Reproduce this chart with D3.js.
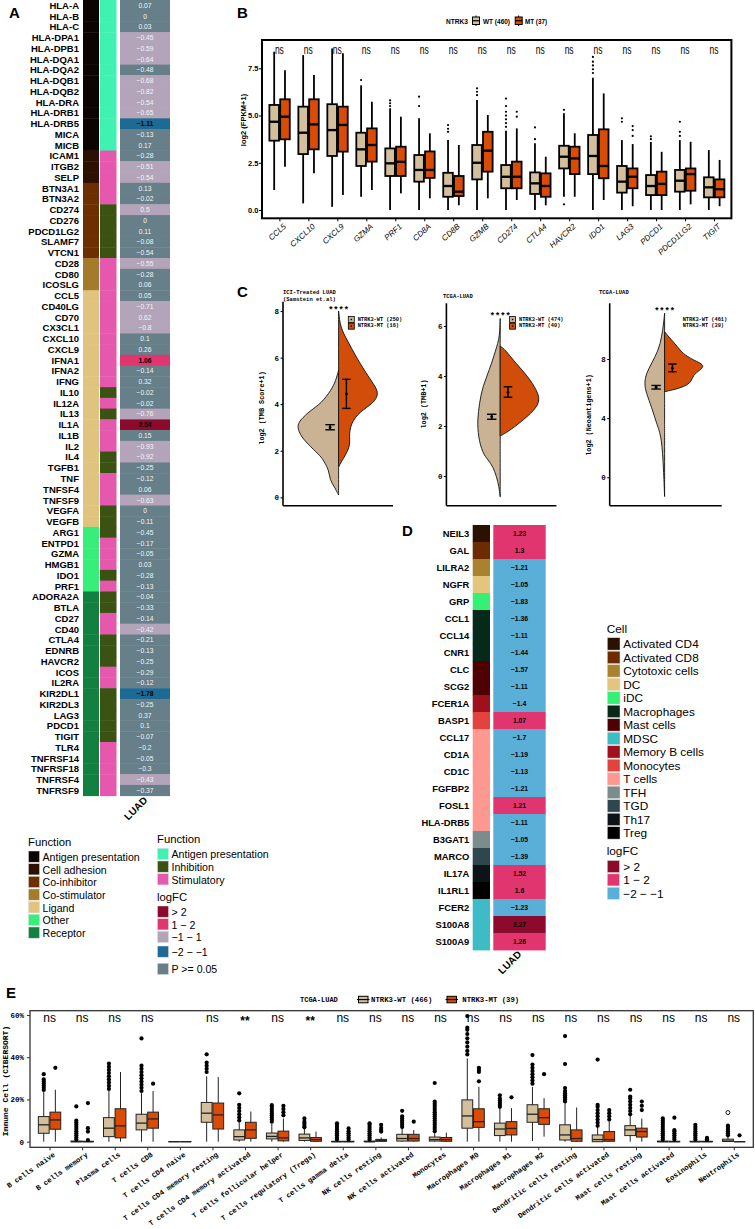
<!DOCTYPE html>
<html>
<head>
<meta charset="utf-8">
<script src="https://cdn.jsdelivr.net/npm/d3@7"></script>
<style>body{margin:0;background:#fff}svg{display:block}text{fill:#000}</style>
</head>
<body>
<script>
// ---------- data : panel A ----------
var aGenes = ["HLA-A","HLA-B","HLA-C","HLA-DPA1","HLA-DPB1","HLA-DQA1","HLA-DQA2","HLA-DQB1","HLA-DQB2","HLA-DRA","HLA-DRB1","HLA-DRB5","MICA","MICB","ICAM1","ITGB2","SELP","BTN3A1","BTN3A2","CD274","CD276","PDCD1LG2","SLAMF7","VTCN1","CD28","CD80","ICOSLG","CCL5","CD40LG","CD70","CX3CL1","CXCL10","CXCL9","IFNA1","IFNA2","IFNG","IL10","IL12A","IL13","IL1A","IL1B","IL2","IL4","TGFB1","TNF","TNFSF4","TNFSF9","VEGFA","VEGFB","ARG1","ENTPD1","GZMA","HMGB1","IDO1","PRF1","ADORA2A","BTLA","CD27","CD40","CTLA4","EDNRB","HAVCR2","ICOS","IL2RA","KIR2DL1","KIR2DL3","LAG3","PDCD1","TIGIT","TLR4","TNFRSF14","TNFRSF18","TNFRSF4","TNFRSF9"];
// A=Antigen presentation C=Cell adhesion I=Co-inhibitor S=Co-stimulator L=Ligand O=Other R=Receptor
var aCategory = "AAAAAAAAAAAAAACCCIIIIIIISSSLLLLLLLLLLLLLLLLLLLLLLOOOOOORRRRRRRRRRRRRRRRRRR".split("");
// A=Antigen presentation I=Inhibition S=Stimulatory
var aFunction = "AAAAAAAAAAAAAASSSSSIIIIISSSSSSSSSSSSISISSSIISSSIIISSSISIISSIIISSIIIIISSSSS".split("");
var aLogFC = [0.07,0,0.03,-0.45,-0.59,-0.64,-0.48,-0.68,-0.82,-0.54,-0.65,-1.11,-0.13,0.17,-0.28,-0.51,-0.54,0.13,-0.02,0.5,0,0.11,-0.08,-0.54,-0.55,-0.28,0.06,0.05,-0.71,0.62,-0.8,0.1,0.26,1.06,-0.14,0.32,-0.02,-0.02,-0.76,2.54,0.15,-0.93,-0.92,-0.25,-0.12,0.06,-0.63,0,-0.11,-0.45,-0.17,-0.05,0.03,-0.28,-0.13,-0.04,-0.33,-0.14,-0.42,-0.21,-0.13,-0.25,-0.29,-0.12,-1.78,-0.25,0.37,0.1,-0.07,-0.2,-0.05,-0.3,-0.43,-0.37];
// n = P>=0.05, m = -1~1, p = 1~2, r = >2, b = -2~-1
var aLevel = "nnnmmmnmmmmbnnnmmnnmnnnnmnnnmmmnnpnnnnmrnmmnnnmnnnnnnnnnnnmnnnnnbnnnnnnnmn".split("");

var catNames = ["Antigen presentation","Cell adhesion","Co-inhibitor","Co-stimulator","Ligand","Other","Receptor"];
var catCodes = ["A","C","I","S","L","O","R"];
var catColors = ["#0c0400","#2c1000","#6d2e00","#a47b2b","#e0c47e","#36ee7a","#128040"];
var funcNames = ["Antigen presentation","Inhibition","Stimulatory"];
var funcCodes = ["A","I","S"];
var funcColors = ["#3ff2b2","#3a5212","#e558ad"];
var levelNames = ["> 2","1 \u2212 2","\u22121 \u2212 1","\u22122 \u2212 \u22121","P >= 0.05"];
var levelCodes = ["r","p","m","b","n"];
var levelColors = ["#8c0a2b","#e1356f","#b4a4b9","#1d6a95","#667f88"];

// ---------- data : panel B ----------
var bGenes = ["CCL5","CXCL10","CXCL9","GZMA","PRF1","CD8A","CD8B","GZMB","CD274","CTLA4","HAVCR2","IDO1","LAG3","PDCD1","PDCD1LG2","TIGIT"];
// [lower whisker, Q1, median, Q3, upper whisker]
var bWT = [[1.06,3.67,4.67,5.56,8.38],[0.35,2.96,4.09,5.47,8.2],[0.17,2.86,4.23,5.6,8.55],[0.7,2.33,3.21,4.09,6.6],[0,1.8,2.47,3.26,5.38],[0,1.5,2.12,2.91,4.85],[0,0.7,1.27,1.97,3.7],[0,1.62,2.5,3.44,5.82],[0,1.15,1.76,2.38,4.2],[0,0.85,1.41,1.99,3.53],[0.7,2.2,2.82,3.4,5.12],[0,1.9,2.86,3.97,7.0],[0,0.92,1.5,2.33,3.7],[0,0.79,1.27,1.85,3.6],[0,0.97,1.55,2.12,3.7],[0,0.67,1.2,1.73,3.17]];
var bMT = [[2.29,3.74,4.94,5.86,7.4],[1.94,3.21,4.53,5.86,7.14],[0.79,3.09,4.5,5.47,8.29],[1.06,2.56,3.44,4.32,5.73],[0.88,1.8,2.55,3.35,4.94],[0.62,1.7,2.12,3.1,4.06],[0.25,0.74,0.97,1.8,3.44],[0.62,2.03,3.14,4.14,5.03],[0.53,1.15,1.76,2.56,4.32],[0.25,0.7,1.27,1.94,2.82],[0.7,1.9,2.73,3.35,4.06],[0.53,1.68,2.33,4.27,6.17],[0.2,1.15,1.76,2.2,3.49],[0,0.79,1.38,2.03,3.08],[0.3,1.02,1.9,2.2,3.61],[0.2,0.67,1.1,1.62,2.65]];
var bWTout = [[],[],[],[6.88],[5.5,5.65,5.8],[5.5,6.0],[4.14,4.3,4.5],[6.08,6.26,6.44],[4.4,4.6,4.8,5.0,5.2,5.5,5.9],[3.75,4.37],[0.3,5.3],[7.25,7.45,7.65,7.85,8.1],[4.67,4.85],[3.75,3.9],[3.92,4.14,4.67],[]];
var bMTout = [[],[],[],[],[],[],[],[],[4.94,5.2],[],[],[],[3.92,4.23,4.44],[],[],[]];
var bYTicks = [0,2.5,5,7.5];

// ---------- data : panel C (density) ----------
var cTitles = [["ICI-Treated LUAD","(Samstein et.al)"],["TCGA-LUAD"],["TCGA-LUAD"]];
var cYLabels = ["log2 (TMB Score+1)","log2 (TMB+1)","log2 (Neoantigens+1)"];
var cLegends = [["NTRK3-WT (250)","NTRK3-MT (16)"],["NTRK3-WT (474)","NTRK3-MT (40)"],["NTRK3-WT (461)","NTRK3-MT (39)"]];
var cYTicks = [[0,2,4,6,8],[0,2,4,6],[0,4,8]];
var cWTdens = [
  [[0.1,0],[0.45,0.1],[0.74,0.21],[1.17,0.23],[1.6,0.37],[1.74,0.42],[2.17,0.67],[2.6,0.9],[3.03,1.0],[3.31,0.93],[3.74,0.67],[4.03,0.42],[4.62,0.17],[5.0,0.07],[5.46,0]],
  [[-0.83,0],[-0.43,0.03],[-0.03,0.09],[0.37,0.18],[0.64,0.3],[0.91,0.44],[1.57,0.55],[2.24,0.57],[2.91,0.52],[3.57,0.44],[4.24,0.27],[5.04,0.11],[5.57,0.01],[6.3,0]],
  [[-1.3,0],[0.49,0.025],[2.74,0.07],[3.65,0.2],[4.77,0.32],[5.68,0.45],[6.36,0.5],[7.03,0.45],[7.7,0.32],[8.6,0.15],[9.5,0.07],[10.4,0.025],[11.1,0]]
];
var cMTdens = [
  [[1.3,0],[1.46,0.04],[2.17,0.29],[2.6,0.25],[3.17,0.29],[3.67,0.5],[4.03,0.83],[4.46,0.98],[4.89,0.83],[5.31,0.67],[6.03,0.42],[6.74,0.21],[7.3,0.04],[8.0,0]],
  [[1.6,0],[1.8,0.22],[2.11,0.48],[2.64,0.87],[3.04,1.0],[3.44,0.91],[3.97,0.7],[4.51,0.39],[5.04,0.13],[5.2,0]],
  [[5.79,0],[5.9,0.19],[6.13,0.49],[6.46,0.66],[6.92,0.7],[7.25,0.87],[7.59,1.0],[7.93,0.7],[8.38,0.44],[8.83,0.32],[9.5,0.1],[9.85,0]]
];
// [mean, low, high]
var cWTmean = [[3.0,2.9,3.12],[2.37,2.27,2.47],[6.09,5.97,6.21]];
var cMTmean = [[4.44,3.82,5.07],[3.35,3.15,3.57],[7.37,7.14,7.66]];

// ---------- data : panel D ----------
var dGenes = ["NEIL3","GAL","LILRA2","NGFR","GRP","CCL1","CCL14","CNR1","CLC","SCG2","FCER1A","BASP1","CCL17","CD1A","CD1C","FGFBP2","FOSL1","HLA-DRB5","B3GAT1","MARCO","IL17A","IL1RL1","FCER2","S100A8","S100A9"];
var dCell = ["Activated CD4","Activated CD8","Cytotoxic cells","DC","iDC","Macrophages","Macrophages","Macrophages","Mast cells","Mast cells","Memory B cells","Monocytes","T cells","T cells","T cells","T cells","T cells","T cells","TFH","TGD","Th17","Treg","MDSC","MDSC","MDSC"];
var dLogFC = [1.23,1.3,-1.21,-1.05,-1.83,-1.36,-1.11,-1.44,-1.57,-1.11,-1.4,1.07,-1.7,-1.19,-1.13,-1.21,1.21,-1.11,-1.05,-1.39,1.52,1.6,-1.23,2.27,1.26];
var cellNames = ["Activated CD4","Activated CD8","Cytotoxic cells","DC","iDC","Macrophages","Mast cells","MDSC","Memory B cells","Monocytes","T cells","TFH","TGD","Th17","Treg"];
var cellColors = ["#2b1200","#6e2b00","#a8822c","#e3c57f","#35f072","#06291a","#4f0000","#3dbcc5","#a0101c","#e3433d","#fe9891","#7b8c8c","#2e464c","#0d1417","#000000"];
var dLevelNames = ["> 2","1 \u2212 2","\u22122 \u2212 \u22121"];
var dLevelColors = ["#8c0a2b","#e1356f","#5aafd8"];

// ---------- data : panel E ----------
var eCells = ["B cells naive","B cells memory","Plasma cells","T cells CD8","T cells CD4 naive","T cells CD4 memory resting","T cells CD4 memory activated","T cells follicular helper","T cells regulatory (Tregs)","T cells gamma delta","NK cells resting","NK cells activated","Monocytes","Macrophages M0","Macrophages M1","Macrophages M2","Dendritic cells resting","Dendritic cells activated","Mast cells resting","Mast cells activated","Eosinophils","Neutrophils"];
var eSig = ["ns","ns","ns","ns","","ns","**","ns","**","ns","ns","ns","ns","ns","ns","ns","ns","ns","ns","ns","ns","ns"];
var eWT = [[0,4.0,8.0,11.9,23.5],[0,0,0,0.3,0.7],[0,2.4,6.4,11.4,24],[0,5.6,8.8,13,23],[0,0,0,0,0],[0,9.2,13.5,18.6,31],[0,0.8,2.4,5.6,9],[0,1.3,2.5,4.1,8.5],[0,0.6,1.8,3.6,6],[0,0,0,0.2,0.5],[0,0,0,0.3,0.7],[0,0.3,1.5,3.5,6.5],[0,0.3,1,2.2,4.5],[0,6.4,12.2,19.8,39.4],[0,2.9,6,8.8,15.9],[0.3,9.2,13,17.5,26],[0,0.8,3.2,8,18],[0,0,1,3.2,6.5],[0,2.9,5.6,7.6,12.7],[0,0,0,0.3,0.7],[0,0,0,0.2,0.4],[0,0.1,0.3,1.2,2.5]];
var eMT = [[0,5.9,10.3,14,24.6],[0,0,0,0.2,0.5],[0,1.8,7.5,15.6,33],[0,6.4,10.8,14,24],[0,0,0,0,0],[0,6,12.7,18.3,30.6],[0,1.6,5.6,9.2,14.3],[0,0.4,1.8,5,11],[0,0.2,1,2,4.8],[0,0,0,0.2,0.5],[0,0.2,0.5,1.1,2],[0,0.3,1.5,3.5,5.5],[0,0.2,1,2,4.3],[0,6.8,9.5,15.6,26],[0,3.2,6.3,9.5,15.9],[2.4,8.2,11.4,15.6,20.6],[0,0.2,1.5,5.6,16.2],[0,0.2,1,4.8,9.5],[0,2.2,4.8,6.4,11],[0,0,0,0.2,0.5],[0,0,0,0.2,0.4],[0,0,0,0,0]];
var eWTout = [[24.5,25.5,26.5,27.5,28.5,29.5,32],[1,2,3,4,5,6,7,8,9,10,16.7],[25,26.5,28,29.5,31,32.5,34,35.5,37],[24,25.5,27,28.5,30,31.5,33,34.5,36,48.9],[],[33,34.5,36,37.5,41.4],[10,11.5,13,14.5,16,17.5,22.9],[9.5,10.5,11.5,12.5,13.5,14.5,15.5,16.5,17.3],[6.8,7.5,8.5,9.5,11],[1,2,3,4,5,6,7,8,8.7],[1,2,3,4,5,6,7,8,8.7],[7,8,9,10,11,12,14.6],[5,6,7,8,9,10,11,12,13,14,15,16,17,18,19,27.8],[41.3,43,45,47,49,51,53,54,59.5],[16.5,17.5,18.5,19.5,20.5,22],[27.5,29,30.5,32,33.5,35,36.5,41],[19,20,21,22,23,24,25.4,36.8,50],[7.5,9,10.5,12,13.5,15,16.5,17.5,38.9],[13,14.5,16,17.5,19,20.5,21.4,24.6],[1,2,3,4,5,6,7,8,9,10,11],[1,2,3,4,5,6,7,8],[3,4,5,6,7,7.6]];
var eMTout = [[35],[0.8,4.8,6.4,18.3],[],[27.5],[],[],[],[12.5,14,15.5,17],[],[1,2,3,4,5,6.3],[4.8,5.5,6.5,8],[9.5],[],[28.6,33,34,35],[21],[32],[],[10.5,12,13.5,15],[15,17,19],[1,2,3,4,5,5.5,11.4],[0.8,1.2,1.8],[3]];
var eOpenPts = [{cell:"Neutrophils", value:13.8}];
var eYTicks = [0,20,40,60];

// ---------- drawing ----------
var sans = "'Liberation Sans', Arial, Helvetica, sans-serif";
var mono = "'Liberation Mono', 'Courier New', monospace";
var tan = "#d3bf9c", orange = "#da4b06";
var cTan = "#c9b394", cOrange = "#d24c0a";

var svg = d3.select("body").append("svg").attr("width", 755).attr("height", 1229);
svg.append("rect").attr("width", 755).attr("height", 1229).attr("fill", "#fff");

function fmt(v) { return (v < 0 ? "\u2212" : "") + String(Math.abs(v)); }

function panelLetter(t, x, y) {
	svg.append("text").attr("x", x).attr("y", y).text(t).attr("fill", "#000")
		.style("font", "bold 15px " + sans);
}

// box + whiskers
function drawBox(g, cx, w, s, fill, sw, yS, col) {
	var lo = s[0], q1 = s[1], md = s[2], q3 = s[3], hi = s[4];
	g.append("line").attr("x1", cx).attr("x2", cx).attr("y1", yS(hi)).attr("y2", yS(lo))
		.attr("stroke", col).attr("stroke-width", sw);
	g.append("rect").attr("x", cx - w / 2).attr("y", yS(q3)).attr("width", w)
		.attr("height", Math.max(0.01, yS(q1) - yS(q3)))
		.attr("fill", fill).attr("stroke", col).attr("stroke-width", sw);
	g.append("line").attr("x1", cx - w / 2).attr("x2", cx + w / 2).attr("y1", yS(md)).attr("y2", yS(md))
		.attr("stroke", col).attr("stroke-width", sw * 1.3);
}

// ===== Panel A =====
panelLetter("A", 9, 18);
var gA = svg.append("g");
var aY = d3.scaleBand().domain(aGenes).range([0, 795.7]);
var catColor = d3.scaleOrdinal().domain(catCodes).range(catColors);
var funcColor = d3.scaleOrdinal().domain(funcCodes).range(funcColors);
var levelColor = d3.scaleOrdinal().domain(levelCodes).range(levelColors);

gA.selectAll("text.gene").data(aGenes).join("text")
	.attr("x", 79).attr("y", function (d) { return aY(d) + aY.bandwidth() / 2; })
	.attr("text-anchor", "end").attr("dominant-baseline", "central").attr("fill", "#000")
	.style("font", "bold 9.5px " + sans).text(function (d) { return d; });
gA.selectAll("rect.cat").data(aGenes).join("rect")
	.attr("x", 83).attr("width", 16).attr("y", function (d) { return aY(d); })
	.attr("height", aY.bandwidth() + 0.4)
	.attr("fill", function (d, i) { return catColor(aCategory[i]); });
gA.selectAll("rect.fun").data(aGenes).join("rect")
	.attr("x", 100).attr("width", 16.5).attr("y", function (d) { return aY(d); })
	.attr("height", aY.bandwidth() + 0.4)
	.attr("fill", function (d, i) { return funcColor(aFunction[i]); });
gA.selectAll("rect.fc").data(aGenes).join("rect")
	.attr("x", 120).attr("width", 50).attr("y", function (d) { return aY(d); })
	.attr("height", aY.bandwidth() + 0.4)
	.attr("fill", function (d, i) { return levelColor(aLevel[i]); });
gA.selectAll("text.fc").data(aGenes).join("text")
	.attr("x", 145).attr("y", function (d) { return aY(d) + aY.bandwidth() / 2; })
	.attr("text-anchor", "middle").attr("dominant-baseline", "central")
	.style("fill", function (d, i) { return "nm".indexOf(aLevel[i]) >= 0 ? "#f4f4f4" : "#000"; })
	.style("font", function (d, i) { return ("nm".indexOf(aLevel[i]) >= 0 ? "" : "bold ") + "6.7px " + sans; })
	.text(function (d, i) { return fmt(aLogFC[i]); });
gA.append("text").attr("transform", "translate(148,801) rotate(-45)")
	.attr("text-anchor", "end").style("font", "bold 10px " + sans).text("LUAD");

// legends of A
function legendBlock(g, x, yTitle, title, names, colors, tops, fs) {
	g.append("text").attr("x", x).attr("y", yTitle).text(title).style("font", "11.3px " + sans);
	names.forEach(function (n, i) {
		g.append("rect").attr("x", x + 0.5).attr("y", tops[i]).attr("width", 11).attr("height", 11.2)
			.attr("fill", colors[i]).attr("stroke", "#ddd").attr("stroke-width", 0.5);
		g.append("text").attr("x", x + 14.5).attr("y", tops[i] + 5.8).attr("dominant-baseline", "central")
			.style("font", fs + "px " + sans).text(n);
	});
}
legendBlock(gA, 28, 846, "Function", catNames, catColors, [851, 863.7, 876.3, 889, 901.7, 914.3, 927], 10.6);
legendBlock(gA, 157, 843, "Function", funcNames, funcColors, [848.3, 861, 873.7], 10.6);
legendBlock(gA, 157, 901, "logFC", levelNames, levelColors, [906, 918.7, 931.3, 946, 963.3], 10.6);

// ===== Panel B =====
panelLetter("B", 237, 18);
var gB = svg.append("g");
var bLeft = 262, bRight = 731.4, bTop = 40, bBottom = 218.3;
var bX = d3.scalePoint().domain(bGenes).range([bLeft, bRight]).padding(0.6);
var bY = d3.scaleLinear().domain([0, 7.5]).range([210, 68.3]);

gB.append("g").attr("transform", "translate(" + bLeft + ",0)")
	.call(d3.axisLeft(bY).tickValues(bYTicks).tickFormat(d3.format(".1f")).tickSize(3))
	.call(function (a) {
		a.select(".domain").remove();
		a.selectAll("line").attr("stroke", "#000").attr("stroke-width", 1);
		a.selectAll("text").style("font", "bold 7.5px " + sans).style("fill", "#000").attr("x", -3.5);
	});
gB.append("g").attr("transform", "translate(0," + bBottom + ")")
	.call(d3.axisBottom(bX).tickSize(3).tickFormat(""))
	.call(function (a) { a.select(".domain").remove(); a.selectAll("line").attr("stroke", "#000"); });
gB.selectAll("text.xl").data(bGenes).join("text")
	.attr("transform", function (d) { return "translate(" + (bX(d) + 3.5) + ",223) rotate(-42)"; })
	.attr("text-anchor", "end").attr("dominant-baseline", "hanging").style("fill", "#000")
	.style("font", "italic 8px " + sans).text(function (d) { return d; });
gB.append("text").attr("transform", "translate(245.5,120) rotate(-90)").attr("text-anchor", "middle")
	.style("font", "bold 7.5px " + sans).text("log2 (FPKM+1)");

bGenes.forEach(function (g, i) {
	var c = bX(g);
	drawBox(gB, c - 5.2, 9.6, bWT[i], tan, 1.8, bY, "#000");
	drawBox(gB, c + 5.6, 9.6, bMT[i], orange, 1.8, bY, "#000");
	bWTout[i].forEach(function (v) { gB.append("circle").attr("cx", c - 5.2).attr("cy", bY(v)).attr("r", 1.1); });
	bMTout[i].forEach(function (v) { gB.append("circle").attr("cx", c + 5.6).attr("cy", bY(v)).attr("r", 1.1); });
	gB.append("text").attr("x", c).attr("y", 54).attr("text-anchor", "middle").style("fill", "#000")
		.attr("textLength", 9).attr("lengthAdjust", "spacingAndGlyphs")
		.style("font", "12px " + sans).text("ns");
});
gB.append("rect").attr("x", bLeft).attr("y", bTop).attr("width", bRight - bLeft).attr("height", bBottom - bTop)
	.attr("fill", "none").attr("stroke", "#000").attr("stroke-width", 2);

// legend of B
function boxKey(g, x, y, w, h, fill, vertical) {
	if (vertical) {
		g.append("line").attr("x1", x + w / 2).attr("x2", x + w / 2).attr("y1", y - 1.5).attr("y2", y + h + 1.5).attr("stroke", "#000");
	} else {
		g.append("line").attr("y1", y + h / 2).attr("y2", y + h / 2).attr("x1", x - 1.5).attr("x2", x + w + 1.5).attr("stroke", "#000");
	}
	g.append("rect").attr("x", x).attr("y", y).attr("width", w).attr("height", h).attr("fill", fill).attr("stroke", "#000").attr("stroke-width", 1);
	g.append("line").attr("x1", x).attr("x2", x + w).attr("y1", y + h / 2).attr("y2", y + h / 2).attr("stroke", "#000").attr("stroke-width", 1.2);
}
gB.append("text").attr("x", 446).attr("y", 21).attr("dominant-baseline", "central")
	.style("font", "bold 7px " + sans).attr("textLength", 22).attr("lengthAdjust", "spacingAndGlyphs").text("NTRK3");
boxKey(gB, 472.5, 17, 7, 7.5, tan, true);
gB.append("text").attr("x", 483).attr("y", 21).attr("dominant-baseline", "central")
	.style("font", "bold 7px " + sans).attr("textLength", 27).attr("lengthAdjust", "spacingAndGlyphs").text("WT (460)");
boxKey(gB, 515.2, 17, 7, 7.5, orange, true);
gB.append("text").attr("x", 525).attr("y", 21).attr("dominant-baseline", "central")
	.style("font", "bold 7px " + sans).attr("textLength", 22).attr("lengthAdjust", "spacingAndGlyphs").text("MT (37)");

// ===== Panel C =====
panelLetter("C", 237, 297);
var gC = svg.append("g");
var cAxisX = [283, 446.4, 609.7];
var cWidth = [110, 110, 112];
var cTopY = [301.7, 303.3, 303.3];
var cBottomY = 505.7;
var cScales = [
	d3.scaleLinear().domain([0, 8]).range([497.3, 311.1]),
	d3.scaleLinear().domain([0, 6]).range([476, 326]),
	d3.scaleLinear().domain([0, 8]).range([477.3, 359])
];
var cHalfWidth = [41.7, 40, 40.7];
var cTitleX = [283, 443, 599];
var cCenterOff = [55.6, 53.8, 54.9];
var cYLabelPos = [[264, 408], [425.5, 404], [590.6, 415]];

cScales.forEach(function (yS, k) {
	var g = gC.append("g");
	var ax = cAxisX[k], cx = ax + cCenterOff[k];
	var wS = d3.scaleLinear().domain([0, 1]).range([0, cHalfWidth[k]]);
	// violins
	var left = d3.area().y(function (d) { return yS(d[0]); }).x0(cx)
		.x1(function (d) { return cx - wS(d[1]); }).curve(d3.curveBasis);
	var right = d3.area().y(function (d) { return yS(d[0]); }).x0(cx)
		.x1(function (d) { return cx + wS(d[1]); }).curve(d3.curveBasis);
	g.append("path").datum(cWTdens[k]).attr("d", left).attr("fill", cTan).attr("stroke", "#111").attr("stroke-width", 0.9);
	g.append("path").datum(cMTdens[k]).attr("d", right).attr("fill", cOrange).attr("stroke", "#111").attr("stroke-width", 0.9);
	// error bars
	[[cWTmean[k], cx - 8.5, 9.5], [cMTmean[k], cx + 7.8, 8.5]].forEach(function (e) {
		var m = e[0], x = e[1], w = e[2];
		g.append("line").attr("x1", x).attr("x2", x).attr("y1", yS(m[1])).attr("y2", yS(m[2])).attr("stroke", "#000").attr("stroke-width", 1.4);
		[m[1], m[2]].forEach(function (v) {
			g.append("line").attr("x1", x - w / 2).attr("x2", x + w / 2).attr("y1", yS(v)).attr("y2", yS(v)).attr("stroke", "#000").attr("stroke-width", 1.4);
		});
		g.append("circle").attr("cx", x).attr("cy", yS(m[0])).attr("r", 1.4).attr("fill", "#000");
	});
	// axes
	g.append("line").attr("x1", ax).attr("x2", ax).attr("y1", cTopY[k]).attr("y2", cBottomY).attr("stroke", "#000").attr("stroke-width", 1.6);
	g.append("line").attr("x1", ax).attr("x2", ax + cWidth[k]).attr("y1", cBottomY).attr("y2", cBottomY).attr("stroke", "#000").attr("stroke-width", 1.6);
	g.append("g").attr("transform", "translate(" + ax + ",0)")
		.call(d3.axisLeft(yS).tickValues(cYTicks[k]).tickFormat(d3.format("d")).tickSize(2.5))
		.call(function (a) {
			a.select(".domain").remove();
			a.selectAll("line").attr("stroke", "#000");
			a.selectAll("text").style("font", "bold 7.5px " + mono).style("fill", "#000").attr("x", -4);
		});
	g.append("text").attr("transform", "translate(" + cYLabelPos[k][0] + "," + cYLabelPos[k][1] + ") rotate(-90)")
		.attr("text-anchor", "middle").style("font", "bold 6.8px " + mono).text(cYLabels[k]);
	cTitles[k].forEach(function (t, j) {
		g.append("text").attr("x", cTitleX[k]).attr("y", (k === 1 ? 296 : 292.7) + j * 6.6)
			.attr("dominant-baseline", "central").style("font", "bold 5.5px " + mono).text(t);
	});
	g.append("text").attr("x", cx).attr("y", cTopY[k] + (k === 1 ? 14 : 9)).attr("text-anchor", "middle")
		.attr("dominant-baseline", "central").style("font", "bold 8.7px " + mono).text("****");
	// legend
	var lx = k === 2 ? 682.7 : (k === 0 ? 348.3 : 509.6);
	cLegends[k].forEach(function (t, j) {
		var ly = 319.5 + j * 6.7;
		if (k < 2) {
			g.append("rect").attr("x", lx).attr("y", ly - 3).attr("width", 6).attr("height", 6)
				.attr("fill", j === 0 ? cTan : cOrange).attr("stroke", "#000").attr("stroke-width", 0.8);
			g.append("rect").attr("x", lx + 2.3).attr("y", ly - 0.7).attr("width", 1.4).attr("height", 1.4).attr("fill", "#000");
		}
		g.append("text").attr("x", k < 2 ? lx + 9.4 : lx).attr("y", ly).attr("dominant-baseline", "central")
			.style("font", "bold 5.3px " + mono).text(t);
	});
});

// ===== Panel D =====
panelLetter("D", 402, 536);
var gD = svg.append("g");
var dY = d3.scaleBand().domain(dGenes).range([525, 950]);
var cellColor = d3.scaleOrdinal().domain(cellNames).range(cellColors);
function dLevel(v) { return v > 2 ? dLevelColors[0] : (v > 1 ? dLevelColors[1] : dLevelColors[2]); }
gD.selectAll("text.g").data(dGenes).join("text")
	.attr("x", 469.3).attr("y", function (d) { return dY(d) + dY.bandwidth() / 2; })
	.attr("text-anchor", "end").attr("dominant-baseline", "central")
	.style("font", "bold 9.4px " + sans).text(function (d) { return d; });
gD.selectAll("rect.c").data(dGenes).join("rect")
	.attr("x", 472.7).attr("width", 17.3).attr("y", function (d) { return dY(d); }).attr("height", dY.bandwidth() + 0.4)
	.attr("fill", function (d, i) { return cellColor(dCell[i]); });
gD.selectAll("rect.v").data(dGenes).join("rect")
	.attr("x", 493.3).attr("width", 52.4).attr("y", function (d) { return dY(d); }).attr("height", dY.bandwidth() + 0.4)
	.attr("fill", function (d, i) { return dLevel(dLogFC[i]); });
gD.selectAll("text.v").data(dGenes).join("text")
	.attr("x", 519.5).attr("y", function (d) { return dY(d) + dY.bandwidth() / 2; })
	.attr("text-anchor", "middle").attr("dominant-baseline", "central")
	.style("font", "bold 6.8px " + sans).text(function (d, i) { return fmt(dLogFC[i]); });
gD.append("text").attr("transform", "translate(522,955) rotate(-45)")
	.attr("text-anchor", "end").style("font", "bold 10px " + sans).text("LUAD");

gD.append("text").attr("x", 606.7).attr("y", 632.5).style("font", "11.8px " + sans).text("Cell");
cellNames.forEach(function (n, i) {
	var t = 637.7 + i * 13.5;
	gD.append("rect").attr("x", 607.3).attr("y", t).attr("width", 12.7).attr("height", 12.4).attr("fill", cellColors[i]).attr("stroke", "#ddd").attr("stroke-width", 0.5);
	gD.append("text").attr("x", 623.3).attr("y", t + 6.4).attr("dominant-baseline", "central").style("font", "11.8px " + sans).text(n);
});
gD.append("text").attr("x", 606.7).attr("y", 855).style("font", "11.8px " + sans).text("logFC");
dLevelNames.forEach(function (n, i) {
	var t = 860.5 + i * 13.4;
	gD.append("rect").attr("x", 607.3).attr("y", t).attr("width", 12.2).attr("height", 12).attr("fill", dLevelColors[i]).attr("stroke", "#ddd").attr("stroke-width", 0.5);
	gD.append("text").attr("x", 623.3).attr("y", t + 6.3).attr("dominant-baseline", "central").style("font", "11.8px " + sans).text(n);
});

// ===== Panel E =====
panelLetter("E", 6, 998);
var gE = svg.append("g");
var eLeft = 30, eRight = 753.3, eTop = 1010.7, eBottom = 1147.3;
var eX = d3.scalePoint().domain(eCells).range([eLeft, eRight]).padding(0.6);
var eY = d3.scaleLinear().domain([0, 60]).range([1141.7, 1015]);

gE.append("g").attr("transform", "translate(" + eLeft + ",0)")
	.call(d3.axisLeft(eY).tickValues(eYTicks).tickSize(3).tickFormat(function (d) { return d === 0 ? "0" : d + "%"; }))
	.call(function (a) {
		a.select(".domain").remove();
		a.selectAll("line").attr("stroke", "#333");
		a.selectAll("text").style("font", "bold 7.5px " + mono).style("fill", "#000").attr("x", -6);
	});
gE.append("g").attr("transform", "translate(0," + eBottom + ")")
	.call(d3.axisBottom(eX).tickSize(3).tickFormat(""))
	.call(function (a) { a.select(".domain").remove(); a.selectAll("line").attr("stroke", "#333"); });
gE.selectAll("text.xl").data(eCells).join("text")
	.attr("transform", function (d) { return "translate(" + (eX(d) + 5) + ",1154) rotate(-35)"; })
	.attr("text-anchor", "end").attr("dominant-baseline", "central")
	.style("font", "bold 7.3px " + mono).text(function (d) { return d; });
gE.append("text").attr("transform", "translate(8,1081) rotate(-90)").attr("text-anchor", "middle")
	.style("font", "bold 8px " + mono).text("Immune Cell (CIBERSORT)");

eCells.forEach(function (c, i) {
	var x = eX(c);
	drawBox(gE, x - 5.8, 10.8, eWT[i], tan, 1, eY, "#222");
	drawBox(gE, x + 5.8, 10.8, eMT[i], orange, 1, eY, "#222");
	eWTout[i].forEach(function (v) { gE.append("circle").attr("cx", x - 5.8).attr("cy", eY(v)).attr("r", 2.1); });
	eMTout[i].forEach(function (v) { gE.append("circle").attr("cx", x + 5.8).attr("cy", eY(v)).attr("r", 2.1); });
	if (eSig[i]) {
		gE.append("text").attr("x", x).attr("y", eSig[i] === "ns" ? 1022 : 1025).attr("text-anchor", "middle")
			.style("font", (eSig[i] === "ns" ? "" : "bold ") + "12px " + sans).text(eSig[i]);
	}
});
eOpenPts.forEach(function (p) {
	gE.append("circle").attr("cx", eX(p.cell) - 5.8).attr("cy", eY(p.value)).attr("r", 2)
		.attr("fill", "#fff").attr("stroke", "#000").attr("stroke-width", 0.9);
});
gE.append("rect").attr("x", eLeft).attr("y", eTop).attr("width", eRight - eLeft).attr("height", eBottom - eTop)
	.attr("fill", "none").attr("stroke", "#333").attr("stroke-width", 1.3);

// legend of E
gE.append("text").attr("x", 300).attr("y", 999.5).attr("dominant-baseline", "central").style("font", "bold 7px " + mono).text("TCGA-LUAD");
boxKey(gE, 358.5, 996.3, 9.5, 6.5, tan, false);
gE.append("text").attr("x", 371).attr("y", 999.5).attr("dominant-baseline", "central").style("font", "bold 7.3px " + mono).text("NTRK3-WT (466)");
boxKey(gE, 447, 996.3, 9.5, 6.5, orange, false);
gE.append("text").attr("x", 462.3).attr("y", 999.5).attr("dominant-baseline", "central").style("font", "bold 7.3px " + mono).text("NTRK3-MT (39)");
</script>
</body>
</html>
